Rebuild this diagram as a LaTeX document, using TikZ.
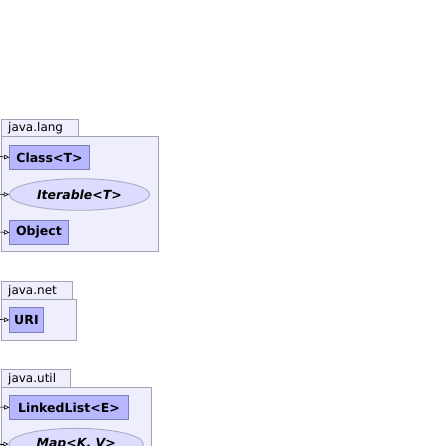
\documentclass[tikz,border=0pt]{standalone}
\usepackage{fontspec}
\setmainfont{DejaVu Sans}
\usetikzlibrary{shapes.geometric,arrows.meta}
\definecolor{pkgfill}{HTML}{EEEEFC}
\definecolor{pkgline}{HTML}{A3A3B6}
\definecolor{clsfill}{HTML}{B7B7FF}
\definecolor{clsline}{HTML}{7E7EB8}
\definecolor{ifcfill}{HTML}{DCDCFF}
\definecolor{ifcline}{HTML}{ABABC6}
\tikzset{
  pkgbox/.style={draw=pkgline, fill=pkgfill, line width=0.9pt, inner sep=0pt, anchor=north west},
  pkglabel/.style={anchor=west, inner sep=0pt, font=\fontsize{12}{14}\selectfont},
  clsbox/.style={draw=clsline, fill=clsfill, line width=0.9pt, inner sep=0pt, anchor=north west,
    font=\fontsize{12.5}{14}\selectfont\bfseries},
  ifcnode/.style={ellipse, draw=ifcline, fill=ifcfill, line width=0.9pt, inner sep=0pt,
    font=\fontsize{12.5}{14}\selectfont\bfseries\itshape},
  usearrow/.style={draw=black, line width=0.6pt, -{Triangle[open, length=5pt, width=4.5pt]}},
}
\begin{document}
\begin{tikzpicture}[x=1pt, y=-1pt]
\useasboundingbox (0,0) rectangle (426,446);
\clip (0,0) rectangle (426,446);
\fill[white] (0,0) rectangle (426,446);

% java.lang
\node[pkgbox, minimum width=76.4pt, minimum height=17pt] (langtab) at (1.3,119.3) {};
\node[pkgbox, minimum width=156.4pt, minimum height=115pt] (langbox) at (1.3,136.3) {};
\node[pkglabel] (langlbl) at ([xshift=6.7pt]langtab.west) {java.lang};
\node[clsbox, minimum width=79.4pt, minimum height=23.4pt] (class) at (9.3,145.3) {Class<T>};
\node[ifcnode, minimum width=140.4pt, minimum height=31.6pt] (iter) at (79.5,194.5) {Iterable<T>};
\node[clsbox, minimum width=58.4pt, minimum height=23.4pt] (object) at (9.3,220.3) {Object};

% java.net
\node[pkgbox, minimum width=70.4pt, minimum height=18pt] (nettab) at (1.3,281.3) {};
\node[pkgbox, minimum width=74.4pt, minimum height=40.4pt] (netbox) at (1.3,299.3) {};
\node[pkglabel] (netlbl) at ([xshift=6.7pt]nettab.west) {java.net};
\node[clsbox, minimum width=33.4pt, minimum height=24.4pt] (uri) at (9.3,307.3) {URI};

% java.util
\node[pkgbox, minimum width=68.4pt, minimum height=18pt] (utiltab) at (1.3,369.3) {};
\node[pkgbox, minimum width=149.4pt, minimum height=80pt] (utilbox) at (1.3,387.3) {};
\node[pkglabel] (utillbl) at ([xshift=6.7pt]utiltab.west) {java.util};
\node[clsbox, minimum width=118.4pt, minimum height=23.4pt] (llist) at (9.3,395.3) {LinkedList<E>};
\node[ifcnode, minimum width=134.4pt, minimum height=31.6pt] (map) at (76.2,444.1) {Map<K, V>};

% incoming edges (cut at left border)
\coordinate (cin) at (-2,156.3);
\coordinate (iin) at (-2,194.4);
\coordinate (oin) at (-2,232.0);
\coordinate (uin) at (-2,319.4);
\coordinate (lin) at (-2,407.0);
\coordinate (min) at (-2,444.1);
\draw[usearrow] (cin) -- (class.west);
\draw[usearrow] (iin) -- (iter.west);
\draw[usearrow] (oin) -- (object.west);
\draw[usearrow] (uin) -- (uri.west);
\draw[usearrow] (lin) -- (llist.west);
\draw[usearrow] (min) -- (map.west);
\end{tikzpicture}
\end{document}
